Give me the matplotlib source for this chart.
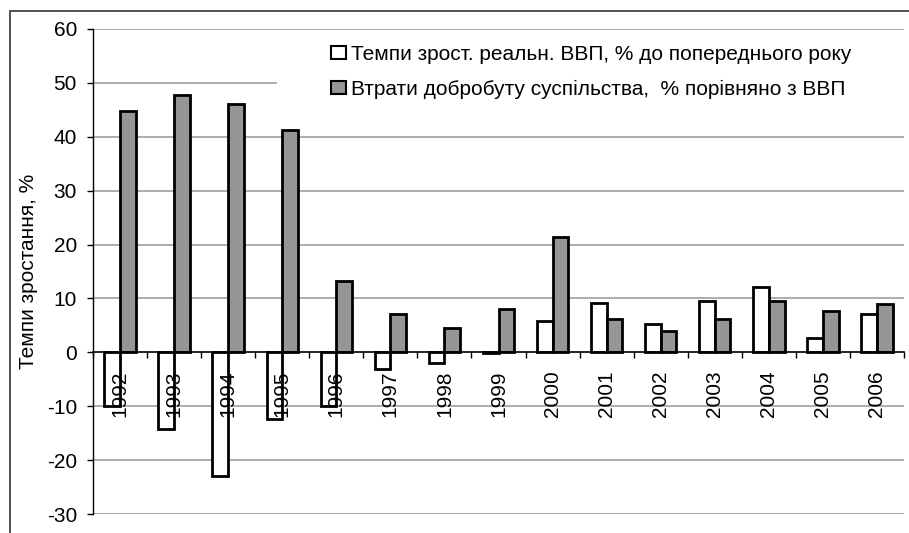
import numpy as np
import matplotlib
matplotlib.use("Agg")
from matplotlib import pyplot as plt
from matplotlib.patches import Rectangle

years = ["1992", "1993", "1994", "1995", "1996", "1997", "1998", "1999",
         "2000", "2001", "2002", "2003", "2004", "2005", "2006"]
gdp_growth = [-10.0, -14.3, -23.0, -12.3, -10.0, -3.0, -1.9, -0.2,
              5.9, 9.2, 5.2, 9.6, 12.1, 2.7, 7.2]
welfare_loss = [44.8, 47.8, 46.0, 41.2, 13.3, 7.2, 4.5, 8.0,
                21.4, 6.2, 4.0, 6.2, 9.6, 7.7, 9.0]
labels = ["Темпи зрост. реальн. ВВП, % до попереднього року",
          "Втрати добробуту суспільства,  % порівняно з ВВП"]

plt.rcParams['font.family'] = ['Liberation Sans', 'DejaVu Sans']
plt.rcParams['axes.unicode_minus'] = False
fs = 15
W, H = 909, 533
fig = plt.figure(figsize=(W / 100, H / 100), dpi=100)
ax = fig.add_axes([93 / W, 1 - 514 / H, (904 - 93) / W, (514 - 29) / H])

x = np.arange(len(years))
w = 0.29
ax.bar(x - w / 2, gdp_growth, w, color='white', edgecolor='black',
       linewidth=2, label=labels[0], zorder=1)
ax.bar(x + w / 2, welfare_loss, w, color='#969696', edgecolor='black',
       linewidth=2, label=labels[1], zorder=1)

ax.set_xlim(-0.5, len(years) - 0.5)
ax.set_ylim(-30, 60)
ax.set_yticks(range(-30, 61, 10))
for yv in range(-30, 61, 10):
    if yv != 0:
        ax.axhline(yv, color='#a0a0a0', linewidth=1.2, zorder=0)

# white area behind the legend hides part of the grid
ax.add_patch(Rectangle((277 / W, 1 - 110 / H), (904 - 277) / W, 74 / H,
                       transform=fig.transFigure, facecolor='white',
                       edgecolor='none', zorder=0.5))

for s in ['top', 'right']:
    ax.spines[s].set_visible(False)
ax.spines['bottom'].set_position(('data', 0))
ax.spines['left'].set_linewidth(1)
ax.spines['bottom'].set_linewidth(1.2)

ax.set_xticks(np.arange(-0.5, len(years), 1))
ax.set_xticklabels([])
ax.set_xticks(x, minor=True)
ax.set_xticklabels(years, minor=True, rotation=90, fontsize=fs)
ax.tick_params(axis='x', which='major', direction='out', length=4.5, width=1)
ax.tick_params(axis='x', which='minor', length=0, pad=13)
ax.tick_params(axis='y', direction='out', length=4.5, width=1, labelsize=fs, pad=7)

ax.set_ylabel("Темпи зростання, %", fontsize=fs, labelpad=6)

leg = ax.legend(loc='upper left', bbox_to_anchor=(331 / W, 1 - 45 / H),
                bbox_transform=fig.transFigure, frameon=False,
                fontsize=fs, handlelength=0.72, handleheight=0.6,
                handletextpad=0.25, labelspacing=0.75, borderpad=0,
                borderaxespad=0)
for h in leg.legend_handles:
    h.set_linewidth(1.5)

# outer chart border
fig.patches.append(Rectangle((10 / W, -0.05), 1.0, 1 - 11 / H + 0.05,
                             transform=fig.transFigure, fill=False,
                             edgecolor='#333333', linewidth=1.2))

fig.savefig("out.png", dpi=100)
